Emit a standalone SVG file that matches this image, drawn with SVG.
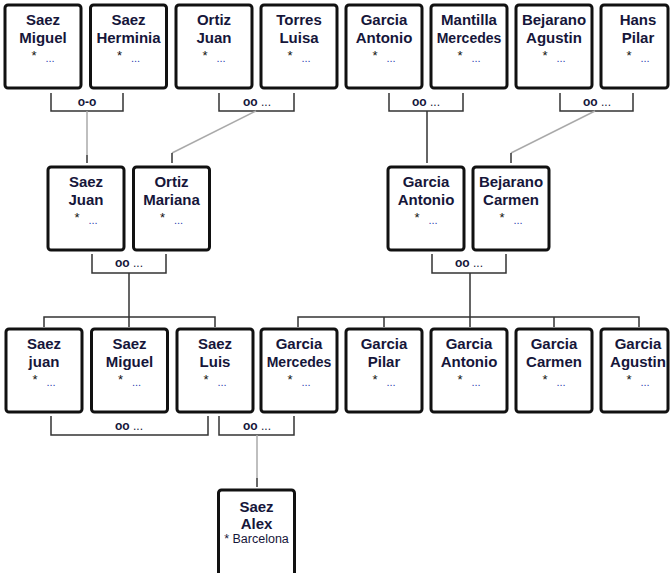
<svg xmlns="http://www.w3.org/2000/svg" width="670" height="573" viewBox="0 0 670 573">
<style>
.box{fill:#fff;stroke:#111;stroke-width:3}
.nm{font-family:"Liberation Sans",Arial,sans-serif;font-weight:bold;font-size:15px;fill:#16163a;text-anchor:middle}
.sm{font-size:14px}
.st{font-family:"Liberation Sans",Arial,sans-serif;font-size:13px;fill:#111;text-anchor:middle}
.dt{font-family:"Liberation Sans",Arial,sans-serif;font-size:11px;fill:#2b3fb0;text-anchor:middle}
.bc{font-family:"Liberation Sans",Arial,sans-serif;font-size:12.5px;fill:#16163a;text-anchor:middle}
.ml{font-family:"Liberation Sans",Arial,sans-serif;font-weight:bold;font-size:12px;fill:#16163a;text-anchor:middle}
.br{fill:none;stroke:#333;stroke-width:1.5}
.gl{fill:none;stroke:#aaa;stroke-width:1.5}
.dl{fill:none;stroke:#333;stroke-width:1.5}
</style>
<rect width="670" height="573" fill="#fff"/>

<g id="connectors">
  <path class="br" d="M51,93 V111 H123 V93"/>
  <path class="br" d="M219,93 V111 H294 V93"/>
  <path class="br" d="M389,93 V111 H463 V93"/>
  <path class="br" d="M560,93 V111 H633 V93"/>
  <text class="ml" x="87" y="106">o-o</text>
  <text class="ml" x="257" y="106">oo <tspan font-weight="normal">...</tspan></text>
  <text class="ml" x="426" y="106">oo <tspan font-weight="normal">...</tspan></text>
  <text class="ml" x="597" y="106">oo <tspan font-weight="normal">...</tspan></text>
  <path class="gl" d="M87,111 V155"/>
  <path class="dl" d="M87,155 V163"/>
  <path class="gl" d="M256,111 L172,153"/>
  <path class="dl" d="M172,153 V163"/>
  <path class="dl" d="M427,111 V163"/>
  <path class="gl" d="M595,111 L511,153"/>
  <path class="dl" d="M511,153 V163"/>
  <path class="br" d="M92,254 V273 H166 V254"/>
  <path class="br" d="M432,254 V273 H506 V254"/>
  <text class="ml" x="129" y="267">oo <tspan font-weight="normal">...</tspan></text>
  <text class="ml" x="469" y="267">oo <tspan font-weight="normal">...</tspan></text>
  <path class="dl" d="M129,273 V317 M44,327 V317 H215 V327 M129,317 V327"/>
  <path class="dl" d="M470,273 V317 M298,327 V317 H639 V327 M384,317 V327 M470,317 V327 M554,317 V327"/>
  <path class="br" d="M51,416 V435 H208 V416"/>
  <path class="br" d="M219,416 V435 H294 V416"/>
  <text class="ml" x="129" y="430">oo <tspan font-weight="normal">...</tspan></text>
  <text class="ml" x="257" y="430">oo <tspan font-weight="normal">...</tspan></text>
  <path class="gl" d="M257,435 V478"/>
  <path class="dl" d="M257,478 V487"/>
</g>

<g id="n-saez-miguel-1" transform="translate(5,5)">
  <rect class="box" width="76" height="83" rx="3"/>
  <text class="nm" x="38" y="20">Saez</text><text class="nm" x="38" y="38">Miguel</text>
  <text class="st" x="29" y="55">*</text><text class="dt" x="45" y="57">...</text>
</g>
<g id="n-saez-herminia" transform="translate(90.5,5)">
  <rect class="box" width="76" height="83" rx="3"/>
  <text class="nm" x="38" y="20">Saez</text><text class="nm" x="38" y="38">Herminia</text>
  <text class="st" x="29" y="55">*</text><text class="dt" x="45" y="57">...</text>
</g>
<g id="n-ortiz-juan" transform="translate(176,5)">
  <rect class="box" width="76" height="83" rx="3"/>
  <text class="nm" x="38" y="20">Ortiz</text><text class="nm" x="38" y="38">Juan</text>
  <text class="st" x="29" y="55">*</text><text class="dt" x="45" y="57">...</text>
</g>
<g id="n-torres-luisa" transform="translate(261,5)">
  <rect class="box" width="76" height="83" rx="3"/>
  <text class="nm" x="38" y="20">Torres</text><text class="nm" x="38" y="38">Luisa</text>
  <text class="st" x="29" y="55">*</text><text class="dt" x="45" y="57">...</text>
</g>
<g id="n-garcia-antonio-1" transform="translate(346,5)">
  <rect class="box" width="76" height="83" rx="3"/>
  <text class="nm" x="38" y="20">Garcia</text><text class="nm" x="38" y="38">Antonio</text>
  <text class="st" x="29" y="55">*</text><text class="dt" x="45" y="57">...</text>
</g>
<g id="n-mantilla-mercedes" transform="translate(431,5)">
  <rect class="box" width="76" height="83" rx="3"/>
  <text class="nm" x="38" y="20">Mantilla</text><text class="nm sm" x="38" y="38">Mercedes</text>
  <text class="st" x="29" y="55">*</text><text class="dt" x="45" y="57">...</text>
</g>
<g id="n-bejarano-agustin" transform="translate(516,5)">
  <rect class="box" width="76" height="83" rx="3"/>
  <text class="nm" x="38" y="20">Bejarano</text><text class="nm" x="38" y="38">Agustin</text>
  <text class="st" x="29" y="55">*</text><text class="dt" x="45" y="57">...</text>
</g>
<g id="n-hans-pilar" transform="translate(601,5)">
  <rect class="box" width="67" height="83" rx="3"/>
  <text class="nm" x="37" y="20">Hans</text><text class="nm" x="37" y="38">Pilar</text>
  <text class="st" x="28" y="55">*</text><text class="dt" x="44" y="57">...</text>
</g>

<g id="n-saez-juan" transform="translate(48,167)">
  <rect class="box" width="76" height="83" rx="3"/>
  <text class="nm" x="38" y="20">Saez</text><text class="nm" x="38" y="38">Juan</text>
  <text class="st" x="29" y="55">*</text><text class="dt" x="45" y="57">...</text>
</g>
<g id="n-ortiz-mariana" transform="translate(133.5,167)">
  <rect class="box" width="76" height="83" rx="3"/>
  <text class="nm" x="38" y="20">Ortiz</text><text class="nm" x="38" y="38">Mariana</text>
  <text class="st" x="29" y="55">*</text><text class="dt" x="45" y="57">...</text>
</g>
<g id="n-garcia-antonio-2" transform="translate(388,167)">
  <rect class="box" width="76" height="83" rx="3"/>
  <text class="nm" x="38" y="20">Garcia</text><text class="nm" x="38" y="38">Antonio</text>
  <text class="st" x="29" y="55">*</text><text class="dt" x="45" y="57">...</text>
</g>
<g id="n-bejarano-carmen" transform="translate(473,167)">
  <rect class="box" width="76" height="83" rx="3"/>
  <text class="nm" x="38" y="20">Bejarano</text><text class="nm" x="38" y="38">Carmen</text>
  <text class="st" x="29" y="55">*</text><text class="dt" x="45" y="57">...</text>
</g>

<g id="n-saez-juan-2" transform="translate(6,329)">
  <rect class="box" width="76" height="83" rx="3"/>
  <text class="nm" x="38" y="20">Saez</text><text class="nm" x="38" y="38">juan</text>
  <text class="st" x="29" y="55">*</text><text class="dt" x="45" y="57">...</text>
</g>
<g id="n-saez-miguel-2" transform="translate(91.5,329)">
  <rect class="box" width="76" height="83" rx="3"/>
  <text class="nm" x="38" y="20">Saez</text><text class="nm" x="38" y="38">Miguel</text>
  <text class="st" x="29" y="55">*</text><text class="dt" x="45" y="57">...</text>
</g>
<g id="n-saez-luis" transform="translate(177,329)">
  <rect class="box" width="76" height="83" rx="3"/>
  <text class="nm" x="38" y="20">Saez</text><text class="nm" x="38" y="38">Luis</text>
  <text class="st" x="29" y="55">*</text><text class="dt" x="45" y="57">...</text>
</g>
<g id="n-garcia-mercedes" transform="translate(261,329)">
  <rect class="box" width="76" height="83" rx="3"/>
  <text class="nm" x="38" y="20">Garcia</text><text class="nm sm" x="38" y="38">Mercedes</text>
  <text class="st" x="29" y="55">*</text><text class="dt" x="45" y="57">...</text>
</g>
<g id="n-garcia-pilar" transform="translate(346,329)">
  <rect class="box" width="76" height="83" rx="3"/>
  <text class="nm" x="38" y="20">Garcia</text><text class="nm" x="38" y="38">Pilar</text>
  <text class="st" x="29" y="55">*</text><text class="dt" x="45" y="57">...</text>
</g>
<g id="n-garcia-antonio-3" transform="translate(431,329)">
  <rect class="box" width="76" height="83" rx="3"/>
  <text class="nm" x="38" y="20">Garcia</text><text class="nm" x="38" y="38">Antonio</text>
  <text class="st" x="29" y="55">*</text><text class="dt" x="45" y="57">...</text>
</g>
<g id="n-garcia-carmen" transform="translate(516,329)">
  <rect class="box" width="76" height="83" rx="3"/>
  <text class="nm" x="38" y="20">Garcia</text><text class="nm" x="38" y="38">Carmen</text>
  <text class="st" x="29" y="55">*</text><text class="dt" x="45" y="57">...</text>
</g>
<g id="n-garcia-agustin" transform="translate(601,329)">
  <rect class="box" width="67" height="83" rx="3"/>
  <text class="nm" x="37" y="20">Garcia</text><text class="nm" x="37" y="38">Agustin</text>
  <text class="st" x="28" y="55">*</text><text class="dt" x="44" y="57">...</text>
</g>

<g id="n-saez-alex" transform="translate(218.5,490)">
  <rect class="box" width="76" height="90" rx="3"/>
  <text class="nm" x="38" y="22">Saez</text><text class="nm" x="38" y="39">Alex</text>
  <text class="bc" x="38" y="53">* Barcelona</text>
</g>
</svg>
